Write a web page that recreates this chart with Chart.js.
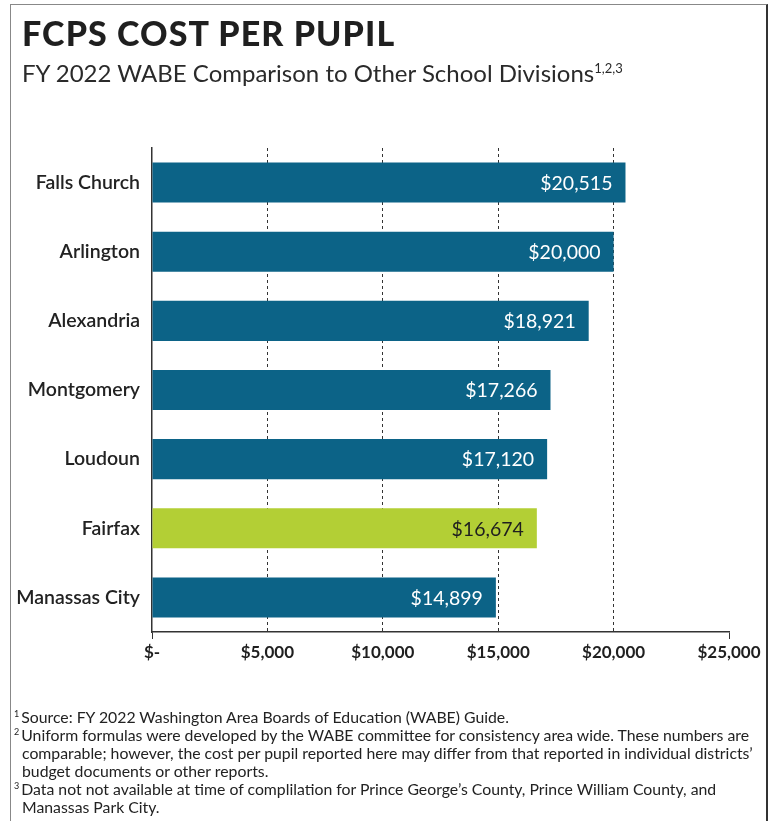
<!DOCTYPE html>
<html>
<head>
<meta charset="utf-8">
<script src="https://cdn.jsdelivr.net/npm/chart.js@4.4.0/dist/chart.umd.min.js"></script>
<style>
  html, body { margin: 0; padding: 0; background: #fff; }
  #page { position: relative; width: 782px; height: 821px; overflow: hidden; font-family: Lato, "Noto Sans", sans-serif; color: #222; }
  #frame { position: absolute; left: 10px; top: 4px; width: 758px; height: 830px; border: 1px solid #888; border-right: 2px solid #333; box-sizing: border-box; }
  #chart { position: absolute; left: 0; top: 0; }
  .title { position: absolute; left: 22px; top: 12px; font-size: 34px; font-weight: 900; white-space: nowrap; color: #1f1f1f; letter-spacing: 1.1px; }
  .subtitle { position: absolute; left: 22px; top: 58px; font-size: 24px; white-space: nowrap; color: #2a2a2a; }
  .subtitle sup { font-size: 13px; line-height: 0; vertical-align: 9px; }
  .notes { position: absolute; left: 14px; top: 708px; font-size: 15.8px; line-height: 18px; color: #222; }
  .notes div { white-space: nowrap; height: 18px; }
  .notes sup { font-size: 9px; line-height: 0; vertical-align: 6px; margin-right: 2px; }
  .notes .ind { padding-left: 8px; }
</style>
</head>
<body>
<div id="page">
  <div id="frame"></div>
  <canvas id="chart" width="782" height="821"></canvas>
  <div class="title">FCPS COST PER PUPIL</div>
  <div class="subtitle">FY 2022 WABE Comparison to Other School Divisions<sup>1,2,3</sup></div>
  <div class="notes">
    <div><sup>1</sup>Source: FY 2022 Washington Area Boards of Education (WABE) Guide.</div>
    <div><sup>2</sup>Uniform formulas were developed by the WABE committee for consistency area wide. These numbers are</div>
    <div class="ind">comparable; however, the cost per pupil reported here may differ from that reported in individual districts’</div>
    <div class="ind">budget documents or other reports.</div>
    <div><sup>3</sup>Data not not available at time of complilation for Prince George’s County, Prince William County, and</div>
    <div class="ind">Manassas Park City.</div>
  </div>
</div>
<script>
// chart data
const divisions = ['Falls Church', 'Arlington', 'Alexandria', 'Montgomery', 'Loudoun', 'Fairfax', 'Manassas City'];
const costPerPupil = [20515, 20000, 18921, 17266, 17120, 16674, 14899];
const highlight = 'Fairfax';

const blue = '#0c6387';
const green = '#b3cf35';

function money(v) {
    return v === 0 ? '$-' : '$' + v.toLocaleString('en-US');
}

// draws the value inside the right end of each bar
const barLabels = {
    id: 'barLabels',
    afterDatasetsDraw(chart) {
        const ctx = chart.ctx;
        const meta = chart.getDatasetMeta(0);
        ctx.save();
        ctx.font = '19.5px Lato, sans-serif';
        ctx.textAlign = 'right';
        ctx.textBaseline = 'middle';
        meta.data.forEach((bar, i) => {
            ctx.fillStyle = divisions[i] === highlight ? '#1f1f1f' : '#ffffff';
            ctx.fillText(money(costPerPupil[i]), bar.x - 13, bar.y + 1);
        });
        ctx.restore();
    }
};

new Chart(document.getElementById('chart'), {
    type: 'bar',
    data: {
        labels: divisions,
        datasets: [{
            data: costPerPupil,
            backgroundColor: divisions.map(d => d === highlight ? green : blue),
            barPercentage: 0.58,
            categoryPercentage: 1
        }]
    },
    options: {
        indexAxis: 'y',
        responsive: false,
        animation: false,
        layout: { padding: { top: 148, right: 53, left: 0, bottom: 0 } },
        plugins: { legend: { display: false }, tooltip: { enabled: false } },
        scales: {
            x: {
                min: 0,
                max: 25000,
                ticks: {
                    stepSize: 5000,
                    padding: 3,
                    color: '#1f1f1f',
                    font: { family: 'Lato', size: 17, weight: 'bold' },
                    callback: v => money(v)
                },
                grid: {
                    color: c => (c.tick && c.tick.value > 0 && c.tick.value < 25000) ? '#333' : 'rgba(0,0,0,0)',
                    tickColor: c => (c.tick && (c.tick.value === 0 || c.tick.value === 25000)) ? '#333' : 'rgba(0,0,0,0)',
                    tickLength: 7,
                    lineWidth: 1
                },
                border: { display: true, color: '#333', width: 1.5, dash: [3, 3] },
                afterFit: s => { s.height = 821 - 632; }
            },
            y: {
                ticks: {
                    padding: 4,
                    color: '#222',
                    font: { family: 'Lato', size: 19.5, weight: '600' }
                },
                grid: { display: false },
                border: { display: true, color: '#333', width: 1.5 },
                afterFit: s => { s.width = 152; }
            }
        }
    },
    plugins: [barLabels]
});
</script>
</body>
</html>
